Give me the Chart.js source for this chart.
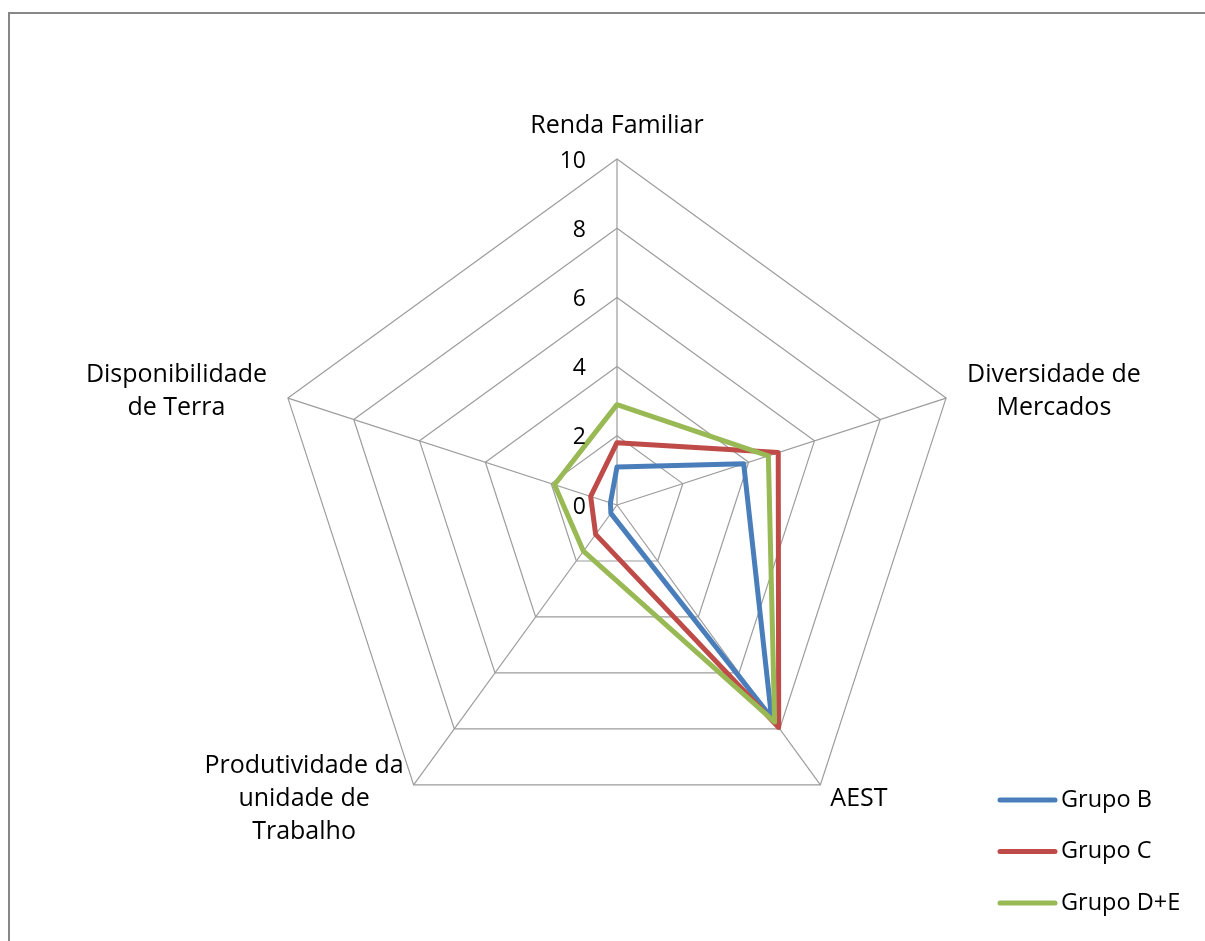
<!DOCTYPE html>
<html>
<head>
<meta charset="utf-8">
<script src="https://cdn.jsdelivr.net/npm/chart.js@4.4.1/dist/chart.umd.min.js"></script>
<style>
  html, body { margin: 0; padding: 0; background: #fff; }
  #wrap { position: relative; width: 1205px; height: 941px; overflow: hidden; }
  #frame { position: absolute; left: 8px; top: 12px; right: -10px; bottom: -10px;
           border-top: 2px solid #878787; border-left: 2px solid #878787; }
  canvas { position: absolute; left: 0; top: 0; }
</style>
</head>
<body>
<div id="wrap">
  <div id="frame"></div>
  <canvas id="radarChart" width="1205" height="941"></canvas>
</div>
<script>
const axisLabels = [
  ["Renda Familiar"],
  ["Diversidade de", "Mercados"],
  ["AEST"],
  ["Produtividade da", "unidade de", "Trabalho"],
  ["Disponibilidade", "de Terra"]
];
const seriesNames = ["Grupo B", "Grupo C", "Grupo D+E"];
const grupoB = [1.1, 3.85, 7.6, 0.3, 0.2];
const grupoC = [1.8, 4.9, 7.95, 1.05, 0.8];
const grupoDE = [2.9, 4.6, 7.75, 1.65, 1.9];
const tickValues = [0, 2, 4, 6, 8, 10];

const colors = ["#4A7EBB", "#BE4B48", "#98B954"];
const labelFont = '25px "Open Sans", sans-serif';
const tickFont = '23px "Open Sans", sans-serif';
const legendFont = '23.5px "Open Sans", sans-serif';

// draws axis labels, tick numbers and legend from the scale's geometry
const decorations = {
  id: "decorations",
  afterDraw(chart) {
    const ctx = chart.ctx;
    const scale = chart.scales.r;
    const r = scale.drawingArea;
    const lineH = 33;
    ctx.save();
    ctx.fillStyle = "#000";
    ctx.textBaseline = "middle";

    // tick labels, right aligned left of the vertical axis
    ctx.font = tickFont;
    ctx.textAlign = "right";
    tickValues.forEach((v) => {
      const d = scale.getDistanceFromCenterForValue(v);
      ctx.fillText(String(v), scale.xCenter - 31, scale.yCenter - d + 2);
    });

    // axis labels
    ctx.font = labelFont;
    chart.data.labels.forEach((lines, i) => {
      const side = i === 1 || i === 4;
      const p = scale.getPointPosition(i, r + (side ? 22 : 17));
      const widths = lines.map((l) => ctx.measureText(l).width);
      const w = Math.max(...widths);
      let cx;
      if (Math.abs(p.x - scale.xCenter) < 5) cx = p.x;
      else if (p.x > scale.xCenter) cx = p.x + w / 2;
      else cx = p.x - w / 2;
      const h = lines.length * lineH;
      const top = i === 0 ? p.y - h : p.y - h / 2;
      ctx.textAlign = "center";
      lines.forEach((l, k) => {
        ctx.fillText(l, cx, top + lineH * k + lineH / 2);
      });
    });

    // legend
    ctx.font = legendFont;
    const lx = 1000;
    let ly = 800;
    chart.data.datasets.forEach((ds) => {
      ctx.strokeStyle = ds.borderColor;
      ctx.lineWidth = 5;
      ctx.lineCap = "round";
      ctx.beginPath();
      ctx.moveTo(lx, ly);
      ctx.lineTo(lx + 55, ly);
      ctx.stroke();
      ctx.textAlign = "left";
      ctx.fillText(ds.label, lx + 61, ly);
      ly += 51.5;
    });
    ctx.restore();
  }
};

const ctx = document.getElementById("radarChart").getContext("2d");
new Chart(ctx, {
  type: "radar",
  data: {
    labels: axisLabels,
    datasets: [grupoB, grupoC, grupoDE].map((vals, i) => ({
      label: seriesNames[i],
      data: vals,
      borderColor: colors[i],
      backgroundColor: "transparent",
      borderWidth: 5,
      fill: false,
      pointRadius: 0,
      tension: 0,
      borderJoinStyle: "round",
      order: 2 - i
    }))
  },
  options: {
    responsive: false,
    devicePixelRatio: 1,
    animation: false,
    layout: { padding: { left: 271, right: 242, top: 159, bottom: 90 } },
    plugins: { legend: { display: false }, tooltip: { enabled: false } },
    scales: {
      r: {
        min: 0,
        max: 10,
        ticks: { stepSize: 2, display: false },
        pointLabels: { display: false },
        grid: { color: "#9C9C9C", lineWidth: 1.2 },
        angleLines: { color: "#9C9C9C", lineWidth: 1.2 }
      }
    }
  },
  plugins: [decorations]
});
</script>
</body>
</html>
